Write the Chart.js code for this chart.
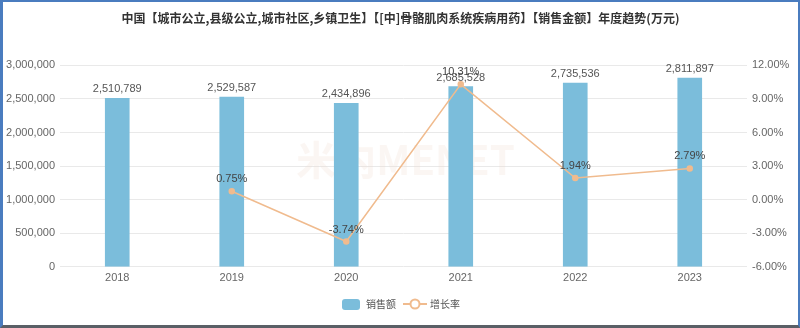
<!DOCTYPE html>
<html>
<head>
<meta charset="utf-8">
<script src="https://cdn.jsdelivr.net/npm/chart.js@4"></script>
<style>
  html, body { margin: 0; padding: 0; background: #fff; }
  .frame {
    width: 800px; height: 328px; box-sizing: border-box;
    border-left: 3px solid #4a7cbf; border-top: 2px solid #4a7cbf;
    border-right: 2px solid #4a7cbf; border-bottom: 3px solid #5a5f66;
    position: relative;
  }
  .frame canvas { display: block; }
</style>
</head>
<body>
<div class="frame"><canvas id="trend" width="795" height="323"></canvas></div>
<script>
const years = ['2018', '2019', '2020', '2021', '2022', '2023'];
const sales = [2510789, 2529587, 2434896, 2685528, 2735536, 2811897];
const growth = [null, 0.75, -3.74, 10.31, 1.94, 2.79];
const salesTicks = [0, 500000, 1000000, 1500000, 2000000, 2500000, 3000000];
const growthTicks = [-6, -3, 0, 3, 6, 9, 12];

const BAR_COLOR = '#7bbddb';
const LINE_COLOR = '#f0bb8e';
const FONT = "'Liberation Sans', 'Noto Sans CJK SC', sans-serif";

// small canvases used as legend symbols
function legendBox() {
  const c = document.createElement('canvas');
  c.width = 22; c.height = 14;
  const g = c.getContext('2d');
  g.fillStyle = BAR_COLOR;
  g.beginPath();
  g.roundRect(2, 2, 18, 11, 3);
  g.fill();
  return c;
}
function legendLine() {
  const c = document.createElement('canvas');
  c.width = 24; c.height = 14;
  const g = c.getContext('2d');
  g.strokeStyle = LINE_COLOR;
  g.lineWidth = 2;
  g.beginPath(); g.moveTo(0, 7); g.lineTo(24, 7); g.stroke();
  g.fillStyle = '#fff';
  g.beginPath(); g.arc(12, 7, 4.5, 0, Math.PI * 2); g.fill(); g.stroke();
  return c;
}

const valueLabels = {
  id: 'valueLabels',
  afterDatasetsDraw(chart) {
    const ctx = chart.ctx;
    ctx.save();
    ctx.font = '11px ' + FONT;
    ctx.textAlign = 'center';
    ctx.textBaseline = 'middle';
    chart.getDatasetMeta(0).data.forEach((bar, i) => {
      ctx.fillStyle = '#555';
      ctx.fillText(sales[i].toLocaleString('en-US'), bar.x, bar.y - 9);
    });
    chart.getDatasetMeta(1).data.forEach((pt, i) => {
      if (growth[i] === null) return;
      ctx.fillStyle = '#444';
      ctx.fillText(growth[i].toFixed(2) + '%', pt.x, pt.y - 12);
    });
    ctx.restore();
  }
};

const watermark = {
  id: 'watermark',
  beforeDatasetsDraw(chart) {
    const a = chart.chartArea;
    const ctx = chart.ctx;
    ctx.save();
    ctx.font = "bold 40px 'Noto Sans CJK SC', sans-serif";
    ctx.fillStyle = 'rgba(238, 214, 200, 0.22)';
    ctx.textAlign = 'center';
    ctx.textBaseline = 'middle';
    ctx.fillText('米内MENET', (a.left + a.right) / 2 + 2, 158);
    ctx.restore();
  }
};

new Chart(document.getElementById('trend'), {
  data: {
    labels: years,
    datasets: [
      {
        type: 'bar',
        label: '销售额',
        data: sales,
        yAxisID: 'y',
        backgroundColor: BAR_COLOR,
        barThickness: 24,
        order: 2
      },
      {
        type: 'line',
        label: '增长率',
        data: growth,
        yAxisID: 'y1',
        borderColor: LINE_COLOR,
        borderWidth: 1.5,
        pointRadius: 2.5,
        pointBackgroundColor: LINE_COLOR,
        pointBorderColor: LINE_COLOR,
        tension: 0,
        order: 1
      }
    ]
  },
  options: {
    responsive: false,
    animation: false,
    layout: { padding: { left: 0, right: 0, top: 0, bottom: 6 } },
    plugins: {
      title: {
        display: true,
        text: '中国【城市公立,县级公立,城市社区,乡镇卫生】【[中]骨骼肌肉系统疾病用药】【销售金额】年度趋势(万元)',
        color: '#333',
        font: { family: "'Noto Sans CJK SC', sans-serif", size: 12, weight: 'bold' },
        padding: { top: 9, bottom: 40 }
      },
      legend: {
        position: 'bottom',
        labels: {
          usePointStyle: true,
          pointStyleWidth: 20,
          boxHeight: 11,
          color: '#555',
          font: { family: "'Noto Sans CJK SC', sans-serif", size: 10 },
          padding: 9,
          generateLabels: () => [
            { text: '销售额', pointStyle: legendBox(), fontColor: '#555', datasetIndex: 0, lineWidth: 0 },
            { text: '增长率', pointStyle: legendLine(), fontColor: '#555', datasetIndex: 1, lineWidth: 0 }
          ]
        }
      },
      tooltip: { enabled: false }
    },
    scales: {
      x: {
        grid: { display: false, drawTicks: false },
        border: { display: false },
        ticks: { color: '#666', font: { family: FONT, size: 11 }, padding: 5 }
      },
      y: {
        position: 'left',
        min: 0, max: 3000000,
        afterBuildTicks: s => { s.ticks = salesTicks.map(v => ({ value: v })); },
        afterFit: s => { s.width = 57; },
        grid: { color: '#e9e9e9', drawTicks: false },
        border: { display: false },
        ticks: {
          color: '#666', padding: 5,
          font: { family: FONT, size: 11 },
          callback: v => v.toLocaleString('en-US')
        }
      },
      y1: {
        position: 'right',
        min: -6, max: 12,
        afterBuildTicks: s => { s.ticks = growthTicks.map(v => ({ value: v })); },
        afterFit: s => { s.width = 51; },
        grid: { drawOnChartArea: false, drawTicks: false },
        border: { display: false },
        ticks: {
          color: '#666', padding: 5,
          font: { family: FONT, size: 11 },
          callback: v => v.toFixed(2) + '%'
        }
      }
    }
  },
  plugins: [watermark, valueLabels]
});
</script>
</body>
</html>
